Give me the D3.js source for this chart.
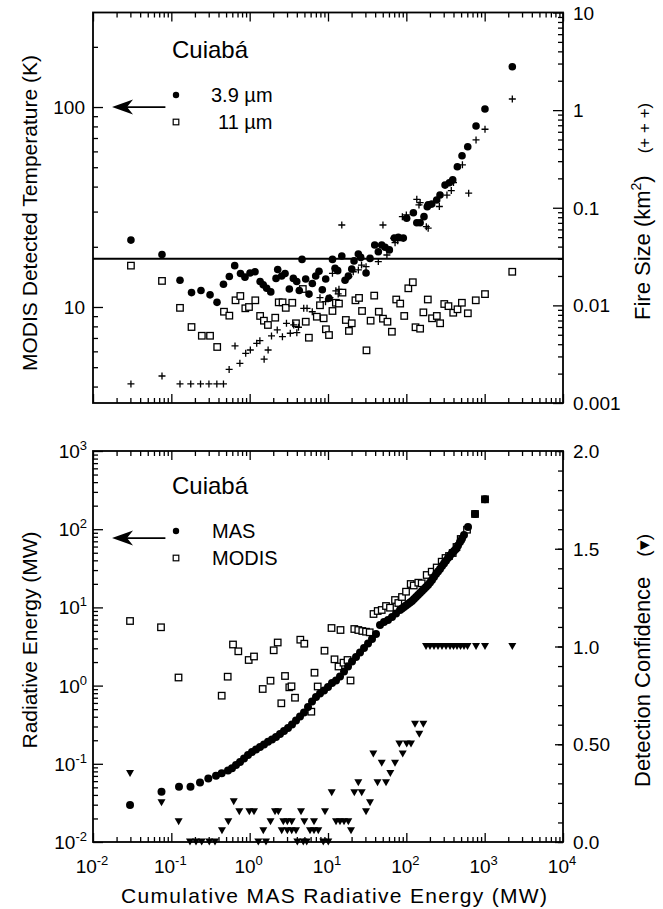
<!DOCTYPE html>
<html>
<head>
<meta charset="utf-8">
<script src="https://cdn.jsdelivr.net/npm/d3@7"></script>
<style>
  html, body { margin: 0; padding: 0; background: #fff; }
  svg { display: block; font-family: "Liberation Sans", Arial, Helvetica, sans-serif; }
</style>
</head>
<body>
<svg id="chart" width="663" height="909"></svg>
<script>
// Top panel: 3.9 um temperature (K)
const t39X = [0.0305, 0.076, 0.129, 0.181, 0.239, 0.312, 0.383, 0.463, 0.55, 0.644, 0.764, 0.871, 1.01, 1.17, 1.36, 1.49, 1.65, 1.86, 2.17, 2.28, 2.56, 2.83, 3.21, 3.61, 3.99, 4.30, 4.66, 5.19, 5.72, 6.31, 6.97, 7.68, 8.46, 9.35, 10.3, 11.4, 12.3, 13.3, 15.0, 16.5, 18.2, 20.1, 21.5, 24.4, 26.2, 30.6, 34.4, 39.5, 43.9, 48.5, 53.5, 60.7, 70.3, 79.0, 91.5, 101, 123, 136, 150, 168, 185, 190, 211, 244, 269, 312, 354, 391, 448, 514, 608, 776, 1009, 2254];
const t39Y = [21.6, 18.3, 13.6, 11.8, 12.1, 11.5, 10.55, 13.0, 14.2, 16.1, 14.7, 14.1, 14.8, 15.0, 13.4, 12.9, 12.4, 11.9, 13.9, 15.4, 14.3, 14.7, 12.3, 13.9, 13.4, 12.1, 17.3, 13.8, 11.6, 13.1, 14.3, 15.1, 12.2, 13.8, 11.05, 17.3, 15.6, 15.2, 18.0, 13.6, 14.3, 15.5, 17.0, 18.4, 17.7, 14.8, 17.5, 20.4, 18.9, 20.4, 19.9, 19.3, 22.1, 22.3, 22.1, 27.8, 29.6, 26.4, 26.4, 28.3, 31.7, 32.4, 32.7, 34.3, 36.3, 40.7, 41.8, 43.2, 50.3, 57.1, 63.3, 80.4, 97.7, 159];

// Top panel: 11 um temperature (K)
const t11X = [0.0305, 0.076, 0.129, 0.181, 0.245, 0.312, 0.385, 0.47, 0.55, 0.66, 0.76, 0.88, 0.98, 1.18, 1.36, 1.52, 1.71, 2.12, 2.35, 2.63, 2.89, 3.5, 3.9, 4.77, 5.2, 5.7, 7.2, 7.9, 8.8, 9.4, 10.3, 11.4, 12.6, 13.8, 15.3, 16.9, 18.5, 20.1, 22.4, 24.9, 27.2, 31, 35, 38.9, 44.5, 50.3, 57.4, 65.4, 74.3, 83.5, 94, 106, 121, 131, 150, 165, 188, 213, 245, 270, 305, 345, 397, 450, 512, 610, 770, 1010, 2250];
const t11Y = [16.1, 13.5, 9.9, 7.94, 7.18, 7.18, 6.31, 9.47, 9.05, 10.8, 11.35, 9.85, 10.0, 10.8, 9.02, 8.54, 8.13, 8.84, 10.55, 10.55, 9.9, 10.5, 8.29, 12.3, 8.44, 7.02, 8.94, 10.2, 8.78, 7.74, 7.24, 9.55, 10.5, 10.4, 11.8, 8.61, 7.59, 8.29, 10.8, 11.1, 9.55, 6.07, 8.54, 11.4, 9.47, 8.74, 8.44, 7.52, 10.9, 10.4, 9.02, 12.4, 13.3, 7.92, 7.79, 9.4, 10.9, 8.78, 9.02, 8.29, 10.35, 10.1, 9.36, 9.74, 10.5, 9.3, 10.8, 11.6, 15.0];

// Top panel: fire size (km2), right axis
const sizeX = [0.0305, 0.076, 0.129, 0.177, 0.236, 0.302, 0.381, 0.463, 0.547, 0.65, 0.75, 0.89, 1.02, 1.23, 1.35, 1.53, 1.72, 1.9, 2.25, 2.62, 2.95, 3.3, 3.65, 4.0, 4.2, 4.9, 5.4, 6.3, 7.9, 9.3, 10.6, 11.4, 12.6, 13.5, 13.8, 15, 18.5, 21, 24.4, 26.8, 30.6, 43.9, 50.3, 56.5, 69, 71.8, 77.6, 89, 100, 136, 145, 150, 180, 190, 264, 330, 375, 400, 520, 625, 776, 1010, 2254];
const sizeY = [0.00157, 0.00189, 0.00157, 0.00157, 0.00157, 0.00157, 0.00157, 0.00157, 0.00221, 0.00384, 0.00255, 0.00323, 0.00349, 0.00409, 0.00435, 0.00281, 0.00349, 0.00486, 0.0056, 0.00478, 0.00655, 0.00518, 0.0063, 0.00525, 0.00597, 0.00933, 0.00933, 0.0086, 0.012, 0.0109, 0.012, 0.0213, 0.0141, 0.0131, 0.0146, 0.0666, 0.0197, 0.0221, 0.0231, 0.0259, 0.0249, 0.0281, 0.0666, 0.0328, 0.0487, 0.0439, 0.046, 0.081, 0.0844, 0.122, 0.107, 0.113, 0.064, 0.0617, 0.103, 0.135, 0.150, 0.181, 0.275, 0.141, 0.495, 0.637, 1.30];
const sizeThreshold = 0.03;

// Bottom panel: MAS radiative energy (MW)
const masX = [0.0297, 0.0749, 0.1253, 0.1757, 0.2323, 0.2965, 0.3718, 0.4395, 0.529, 0.595, 0.669, 0.753, 0.847, 0.952, 1.071, 1.205, 1.355, 1.524, 1.714, 1.929, 2.169, 2.439, 2.744, 3.087, 3.471, 3.905, 4.392, 4.939, 5.557, 6.25, 7.029, 7.907, 8.896, 10.0, 11.25, 12.66, 14.23, 16.01, 18.01, 20.26, 22.79, 25.63, 28.83, 32.43, 36.47, 41.03, 46.13, 51.88, 58.37, 65.64, 73.83, 83.06, 88.1, 93.4, 99.1, 105.1, 111.4, 118.2, 125.3, 132.9, 141, 149.5, 158.5, 168.2, 178.3, 189.2, 200.6, 212.7, 225.6, 239.3, 253.8, 269.2, 285.4, 302.7, 321.1, 340.5, 361.2, 383, 406.2, 430.7, 456.8, 484.5, 513.8, 544.9, 613, 752.8, 1010];
const masY = [0.0297, 0.044, 0.051, 0.051, 0.0577, 0.0649, 0.0703, 0.0756, 0.0821, 0.0876, 0.0965, 0.1054, 0.1169, 0.1296, 0.1416, 0.1524, 0.164, 0.1771, 0.1911, 0.2051, 0.2202, 0.2405, 0.2627, 0.287, 0.318, 0.358, 0.4026, 0.4529, 0.5324, 0.6262, 0.7147, 0.7925, 0.8654, 0.9596, 1.079, 1.162, 1.307, 1.514, 1.755, 2.033, 2.321, 2.65, 3.025, 3.454, 3.944, 4.568, 5.955, 6.506, 6.901, 7.538, 8.356, 9.265, 9.68, 10.12, 10.58, 11.05, 11.56, 12.07, 12.81, 13.58, 14.41, 15.28, 16.21, 17.19, 18.23, 19.34, 20.82, 22.41, 24.47, 26.74, 28.78, 30.97, 33.83, 36.42, 39.44, 42.82, 46.09, 49.62, 52.63, 55.82, 61.88, 68.6, 76.05, 84.3, 106.7, 156.5, 241.2];

// Bottom panel: MODIS radiative energy (MW)
const modisX = [0.0297, 0.0738, 0.1235, 0.4395, 0.5243, 0.6128, 0.7161, 0.972, 1.136, 1.467, 1.845, 2.027, 2.28, 2.535, 2.827, 3.207, 3.421, 3.792, 4.431, 4.983, 6.122, 6.726, 7.389, 9.024, 11.09, 12.11, 13.62, 14.44, 15.78, 17.75, 19.39, 21.67, 24.38, 27.42, 30.57, 34.09, 38.11, 43.12, 48.51, 55.03, 61.88, 71.71, 79.0, 88.1, 99.1, 113.7, 124.3, 142.2, 157.1, 182.0, 210.9, 244.2, 282.8, 316.4, 350.7, 390.9, 437.1, 494.6, 595.3, 753.0, 1010];
const modisY = [6.70, 5.57, 1.269, 0.743, 1.300, 3.354, 2.745, 2.125, 2.356, 0.905, 1.155, 2.828, 3.558, 0.594, 1.327, 0.951, 0.979, 0.700, 3.864, 3.434, 0.4637, 1.462, 0.974, 2.795, 5.452, 2.169, 1.755, 5.140, 1.963, 2.125, 1.162, 5.294, 5.140, 4.991, 4.890, 4.804, 8.234, 8.995, 9.265, 10.42, 9.91, 12.43, 11.38, 13.58, 15.88, 19.92, 19.06, 20.70, 20.33, 25.96, 28.61, 32.37, 38.40, 42.82, 45.42, 49.62, 59.21, 74.94, 98.5, 156.5, 241.2];

// Bottom panel: detection confidence, right axis
const confX = [0.0297, 0.0749, 0.124, 0.173, 0.2065, 0.244, 0.305, 0.361, 0.443, 0.534, 0.626, 0.737, 0.99, 1.136, 1.289, 1.493, 1.616, 1.845, 2.106, 2.321, 2.565, 2.689, 3.024, 3.024, 3.441, 3.441, 3.905, 4.057, 4.522, 4.839, 4.984, 5.348, 5.893, 6.627, 6.627, 7.52, 8.71, 9.158, 10.09, 11.15, 12.66, 14.23, 16.01, 18.17, 19.67, 21.67, 24.38, 26.94, 30.57, 34.39, 37.89, 42.87, 48.51, 55.03, 62.43, 71.71, 81.36, 89.9, 101.1, 114.7, 129.1, 146.4, 164.8, 178.4, 200.6, 225.6, 253.8, 285.4, 321.1, 361.2, 400.3, 443.6, 491.8, 545, 604, 776, 1010, 2254];
const confY = [0.351, 0.201, 0.104, 0, 0, 0, 0, 0, 0.058, 0.104, 0.206, 0.155, 0.155, 0.155, 0, 0.058, 0, 0.104, 0.155, 0.155, 0.058, 0.104, 0.104, 0.058, 0.104, 0.058, 0.058, 0, 0.155, 0, 0.104, 0, 0.058, 0.058, 0.104, 0.058, 0, 0.155, 0, 0.252, 0.104, 0.104, 0.104, 0.104, 0.058, 0.252, 0.303, 0.252, 0.155, 0.201, 0.450, 0.303, 0.403, 0.303, 0.351, 0.403, 0.501, 0.450, 0.501, 0.501, 0.602, 0.551, 0.602, 1, 1, 1, 1, 1, 1, 1, 1, 1, 1, 1, 1, 1, 1, 1];

// Axis labels
const xTickExp = ["-2", "-1", "0", "1", "2", "3", "4"];
const energyTickExp = ["-2", "-1", "0", "1", "2", "3"];
const tempTicks = [10, 100];
const sizeTicks = [0.001, 0.01, 0.1, 1, 10];
const sizeTickLabels = ["0.001", "0.01", "0.1", "1", "10"];
const confTicks = [0, 0.5, 1, 1.5, 2];
const confTickLabels = ["0.0", "0.50", "1.0", "1.5", "2.0"];

const svg = d3.select("#chart");

const X0 = 93, X1 = 563;
const TOP = { y0: 12.5, y1: 403 };
const BOT = { y0: 451, y1: 842 };

const x = d3.scaleLog().domain([1e-2, 1e4]).range([X0, X1]);
const yTemp = d3.scaleLog().domain([3.31, 297]).range([TOP.y1, TOP.y0]);
const ySize = d3.scaleLog().domain([0.001, 10]).range([TOP.y1, TOP.y0]);
const yEnergy = d3.scaleLog().domain([1e-2, 1e3]).range([BOT.y1, BOT.y0]);
const yConf = d3.scaleLinear().domain([0, 2]).range([BOT.y1, BOT.y0]);

function logTicks(domain) {
  const major = [], minor = [];
  const lo = Math.floor(Math.log10(domain[0]));
  const hi = Math.ceil(Math.log10(domain[1]));
  for (let k = lo; k <= hi; k++) {
    for (let m = 1; m <= 9; m++) {
      const v = m * Math.pow(10, k);
      if (v < domain[0] * 0.999 || v > domain[1] * 1.001) continue;
      (m === 1 ? major : minor).push(v);
    }
  }
  return { major, minor };
}

// inward ticks, no labels
function ticks(axisGen, scale, values, size, tx, ty) {
  svg.append("g")
    .attr("transform", `translate(${tx},${ty})`)
    .call(axisGen(scale).tickValues(values).tickSize(-size).tickFormat(""))
    .call((g) => g.select(".domain").remove())
    .selectAll("line")
    .attr("stroke", "#000")
    .attr("stroke-width", 1.3);
}

const xt = logTicks(x.domain());
[TOP, BOT].forEach((p) => {
  ticks(d3.axisTop, x, xt.major, 9, 0, p.y0);
  ticks(d3.axisTop, x, xt.minor, 5, 0, p.y0);
  ticks(d3.axisBottom, x, xt.major, 9, 0, p.y1);
  ticks(d3.axisBottom, x, xt.minor, 5, 0, p.y1);
});

const tt = logTicks(yTemp.domain());
ticks(d3.axisLeft, yTemp, tt.major, 10, X0, 0);
ticks(d3.axisLeft, yTemp, tt.minor, 5, X0, 0);
const st = logTicks(ySize.domain());
ticks(d3.axisRight, ySize, st.major, 10, X1, 0);
ticks(d3.axisRight, ySize, st.minor, 5, X1, 0);
const et = logTicks(yEnergy.domain());
ticks(d3.axisLeft, yEnergy, et.major, 10, X0, 0);
ticks(d3.axisLeft, yEnergy, et.minor, 5, X0, 0);
ticks(d3.axisRight, yConf, confTicks, 8, X1, 0);
ticks(d3.axisRight, yConf, d3.range(0, 21).map((i) => i / 10), 5, X1, 0);

// Frames
[TOP, BOT].forEach((p) => {
  svg.append("rect")
    .attr("x", X0)
    .attr("y", p.y0)
    .attr("width", X1 - X0)
    .attr("height", p.y1 - p.y0)
    .attr("fill", "none")
    .attr("stroke", "#000")
    .attr("stroke-width", 1.8);
});

// Tick labels
const labels = svg.append("g").attr("font-size", 19).attr("fill", "#000");

tempTicks.forEach((v) => {
  labels.append("text")
    .attr("x", 85)
    .attr("y", yTemp(v) + 7)
    .attr("text-anchor", "end")
    .text(v);
});

sizeTicks.forEach((v, i) => {
  labels.append("text")
    .attr("x", 573)
    .attr("y", ySize(v) + 7)
    .text(sizeTickLabels[i]);
});

confTicks.forEach((v, i) => {
  labels.append("text")
    .attr("x", 573)
    .attr("y", yConf(v) + 7)
    .text(confTickLabels[i]);
});

function powLabel(px, py, exp, anchor) {
  const t = labels.append("text")
    .attr("x", px)
    .attr("y", py)
    .attr("text-anchor", anchor);
  t.append("tspan").text("10");
  t.append("tspan").attr("dy", -8).attr("font-size", 13).text(exp);
}

energyTickExp.forEach((e) => powLabel(87, yEnergy(Math.pow(10, +e)) + 7, e, "end"));
xTickExp.forEach((e) => powLabel(x(Math.pow(10, +e)) - 1, 873, e, "middle"));

// Axis titles
const titles = svg.append("g").attr("font-size", 21).attr("fill", "#000");

titles.append("text")
  .attr("transform", "translate(37,213) rotate(-90)")
  .attr("text-anchor", "middle")
  .text("MODIS Detected Temperature (K)");

titles.append("text")
  .attr("transform", "translate(37,640) rotate(-90)")
  .attr("text-anchor", "middle")
  .text("Radiative Energy (MW)");

const fireTitle = titles.append("text")
  .attr("font-size", 22)
  .attr("transform", "translate(650,320) rotate(-90)");
fireTitle.append("tspan").text("Fire Size (km");
fireTitle.append("tspan").attr("dy", -9).attr("font-size", 14).text("2");
fireTitle.append("tspan").attr("dy", 9).text(")");
fireTitle.append("tspan").attr("dx", 22).attr("font-size", 17).text("(+ + +)");

const confTitle = titles.append("text")
  .attr("font-size", 22)
  .attr("transform", "translate(650,787) rotate(-90)");
confTitle.append("tspan").text("Detection Confidence");
confTitle.append("tspan").attr("dx", 20).attr("font-size", 19).text("(\u25BE)");

titles.append("text")
  .attr("x", 334)
  .attr("y", 903)
  .attr("text-anchor", "middle")
  .attr("font-size", 21)
  .attr("textLength", 426)
  .attr("lengthAdjust", "spacing")
  .text("Cumulative MAS Radiative Energy (MW)");

// Threshold line
svg.append("line")
  .attr("x1", X0)
  .attr("x2", X1)
  .attr("y1", ySize(sizeThreshold))
  .attr("y2", ySize(sizeThreshold))
  .attr("stroke", "#000")
  .attr("stroke-width", 2);

const zip = (xs, ys) => xs.map((v, i) => [v, ys[i]]);

// Marks: top panel
const sq = 6.5;
svg.append("g")
  .selectAll("rect")
  .data(zip(t11X, t11Y))
  .join("rect")
  .attr("x", (d) => x(d[0]) - sq / 2)
  .attr("y", (d) => yTemp(d[1]) - sq / 2)
  .attr("width", sq)
  .attr("height", sq)
  .attr("fill", "#fff")
  .attr("stroke", "#000")
  .attr("stroke-width", 1.3);

svg.append("g")
  .selectAll("path")
  .data(zip(sizeX, sizeY))
  .join("path")
  .attr("transform", (d) => `translate(${x(d[0])},${ySize(d[1])})`)
  .attr("d", "M-3.5,0H3.5M0,-3.5V3.5")
  .attr("stroke", "#000")
  .attr("stroke-width", 1.3);

svg.append("g")
  .selectAll("circle")
  .data(zip(t39X, t39Y))
  .join("circle")
  .attr("cx", (d) => x(d[0]))
  .attr("cy", (d) => yTemp(d[1]))
  .attr("r", 3.8)
  .attr("fill", "#000");

// Marks: bottom panel
svg.append("g")
  .selectAll("rect")
  .data(zip(modisX, modisY))
  .join("rect")
  .attr("x", (d) => x(d[0]) - sq / 2)
  .attr("y", (d) => yEnergy(d[1]) - sq / 2)
  .attr("width", sq)
  .attr("height", sq)
  .attr("fill", "#fff")
  .attr("stroke", "#000")
  .attr("stroke-width", 1.3);

svg.append("g")
  .selectAll("circle")
  .data(zip(masX, masY))
  .join("circle")
  .attr("cx", (d) => x(d[0]))
  .attr("cy", (d) => yEnergy(d[1]))
  .attr("r", 4)
  .attr("fill", "#000");

svg.append("g")
  .selectAll("path")
  .data(zip(confX, confY))
  .join("path")
  .attr("transform", (d) => `translate(${x(d[0])},${yConf(d[1])})`)
  .attr("d", "M-4,-3.5L4,-3.5L0,3.5Z")
  .attr("fill", "#000");

// Legends
function legend(y0, items) {
  const g = svg.append("g").attr("fill", "#000");
  g.append("text").attr("x", 172).attr("y", y0).attr("font-size", 24).text("Cuiab\u00e1");
  items.forEach((it, i) => {
    const cy = y0 + 37 + i * 27;
    if (it.shape === "circle") {
      g.append("circle").attr("cx", 176).attr("cy", cy).attr("r", 3.2);
    } else {
      g.append("rect")
        .attr("x", 173.2)
        .attr("y", cy - 2.8)
        .attr("width", 5.6)
        .attr("height", 5.6)
        .attr("fill", "#fff")
        .attr("stroke", "#000")
        .attr("stroke-width", 1.2);
    }
    g.append("text").attr("x", it.tx).attr("y", cy + 6.5).attr("font-size", 20).text(it.label);
  });
}
legend(58, [{ shape: "circle", label: "3.9 \u00b5m", tx: 211 }, { shape: "square", label: "11 \u00b5m", tx: 218 }]);
legend(494, [{ shape: "circle", label: "MAS", tx: 212 }, { shape: "square", label: "MODIS", tx: 212 }]);

// Arrows pointing to the left axes
function arrow(yPix) {
  const tail = x(0.084), tip = x(0.0175);
  svg.append("line")
    .attr("x1", tail)
    .attr("x2", tip + 10)
    .attr("y1", yPix)
    .attr("y2", yPix)
    .attr("stroke", "#000")
    .attr("stroke-width", 1.8);
  svg.append("path")
    .attr("d", `M${tip},${yPix}L${tip + 21},${yPix - 7.5}L${tip + 15},${yPix}L${tip + 21},${yPix + 7.5}Z`)
    .attr("fill", "#000");
}
arrow(yTemp(100));
arrow(yEnergy(77));
</script>
</body>
</html>
